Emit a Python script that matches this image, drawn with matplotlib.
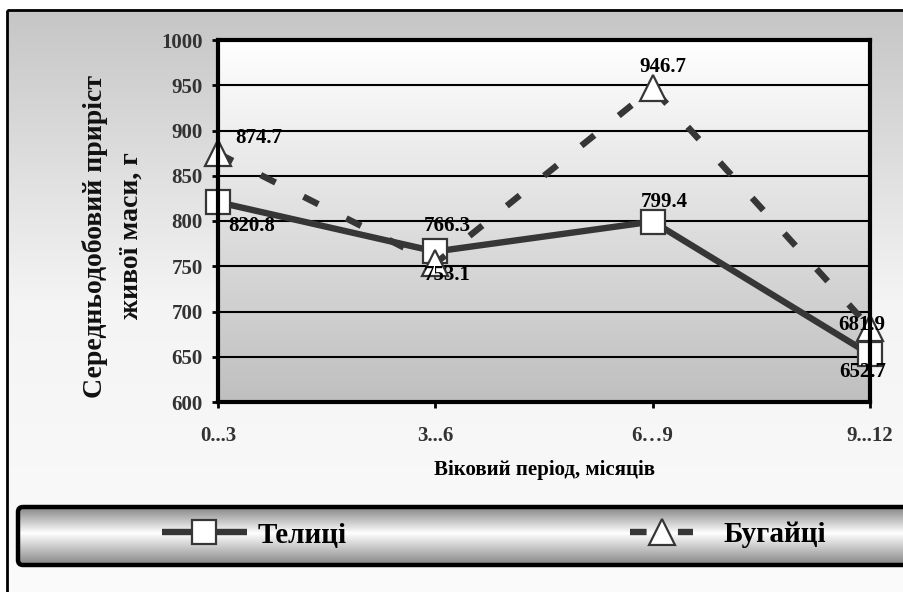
import numpy as np
import matplotlib
matplotlib.use('Agg')
import matplotlib.pyplot as plt
from matplotlib.patches import Rectangle, FancyBboxPatch
from matplotlib.colors import LinearSegmentedColormap

# ---- data ----
periods = ['0...3', '3...6', '6…9', '9...12']
heifers = [820.8, 766.3, 799.4, 652.7]
bulls = [874.7, 753.1, 946.7, 681.9]
series_names = ['Телиці', 'Бугайці']
y_ticks = [600, 650, 700, 750, 800, 850, 900, 950, 1000]
y_label = 'Середньодобовий приріст\nживої маси, г'
x_label = 'Віковий період, місяців'

plt.rcParams['font.family'] = ['Liberation Serif', 'DejaVu Serif']
plt.rcParams['font.weight'] = 'bold'

W, H = 904, 592
fig = plt.figure(figsize=(W / 100, H / 100), dpi=100)
fig.patch.set_facecolor('white')

# background axes in pixel coordinates
bg = fig.add_axes([0, 0, 1, 1], zorder=0)
bg.set_xlim(0, W)
bg.set_ylim(H, 0)
bg.axis('off')
grad = np.linspace(0, 1, 256).reshape(-1, 1)
cmap_bg = LinearSegmentedColormap.from_list('bg', ['#c6c6c6', '#f4f4f4', '#fbfbfb'])
bg.imshow(grad, extent=(7, W + 10, H, 10), cmap=cmap_bg, aspect='auto', origin='upper', zorder=0)
bg.add_patch(Rectangle((7, 10), W + 10, H + 10, fill=False, lw=2, ec='black', zorder=2))

# legend box with cylinder gradient
lbox = FancyBboxPatch((18, 507), W, 58, boxstyle='round,pad=0,rounding_size=5',
                      fc='none', ec='black', lw=3.2, zorder=3)
bg.add_patch(lbox)
cmap_leg = LinearSegmentedColormap.from_list('leg', [(0, '#848484'), (0.45, '#ffffff'), (1, '#848484')])
im = bg.imshow(grad, extent=(18, W + 20, 565, 507), cmap=cmap_leg, aspect='auto', origin='upper', zorder=1)
im.set_clip_path(lbox)
bg.set_xlim(0, W)
bg.set_ylim(H, 0)

# main axes
ax = fig.add_axes([218 / W, 1 - 402 / H, 652 / W, 362 / H], zorder=1)
ax.patch.set_visible(False)
cmap_plot = LinearSegmentedColormap.from_list('pl', ['#ffffff', '#bfbfbf'])
ax.imshow(grad, extent=(0, 1, 0, 1), transform=ax.transAxes, cmap=cmap_plot,
          aspect='auto', origin='upper', zorder=0)

x = np.arange(len(periods))
line_col = '#363636'
l1, = ax.plot(x, heifers, color=line_col, lw=4.6, marker='s', ms=17.5, mfc='white',
              mec=line_col, mew=1.6, clip_on=False, zorder=4, solid_capstyle='butt')
l2, = ax.plot(x, bulls, color=line_col, lw=4.6, marker='^', ms=18.5, mfc='white',
              mec=line_col, mew=1.6, clip_on=False, zorder=5, dashes=(2.6, 4.9))

ax.set_xlim(0, len(periods) - 1)
ax.set_ylim(y_ticks[0], y_ticks[-1])
ax.set_yticks(y_ticks)
ax.set_xticks(x)
ax.set_xticklabels(periods)
ax.yaxis.grid(True, color='black', lw=1.5)
ax.xaxis.grid(False)
ax.set_axisbelow(True)
for s in ax.spines.values():
    s.set_linewidth(3)
    s.set_zorder(6)
ax.tick_params(axis='y', direction='out', length=4, width=2, pad=7, labelsize=15, labelcolor='#333333')
ax.tick_params(axis='x', direction='out', length=4, width=2, pad=13, labelsize=15, labelcolor='#333333')

# data labels (offsets in points)
h_off = [(24, -17), (8.6, 18), (8.6, 14), (-5, -13)]
b_off = [(29, 11), (8.6, -8), (7, 15), (-6, 2)]
for xi, v, off in zip(x, heifers, h_off):
    ax.annotate(f'{v:.1f}', (xi, v), xytext=off, textcoords='offset points',
                ha='center', va='center', fontsize=15, color='black', zorder=7,
                annotation_clip=False)
for xi, v, off in zip(x, bulls, b_off):
    ax.annotate(f'{v:.1f}', (xi, v), xytext=off, textcoords='offset points',
                ha='center', va='center', fontsize=15, color='black', zorder=7,
                annotation_clip=False)

fig.text(113 / W, 1 - 236 / H, y_label, rotation=90, ha='center', va='center',
         fontsize=20, color='#111111', multialignment='center', linespacing=1.55)
fig.text(544 / W, 1 - 470 / H, x_label, ha='center', va='center', fontsize=15, color='black')

fs_leg = 21
em = fs_leg * 100 / 72
leg1 = fig.legend(handles=[l1], labels=[series_names[0]], loc='center left',
                  bbox_to_anchor=(162 / W, 1 - 535 / H), frameon=False, fontsize=fs_leg,
                  handlelength=85 / em, handletextpad=11 / em, borderpad=0, borderaxespad=0)
leg2 = fig.legend(handles=[l2], labels=[series_names[1]], loc='center left',
                  bbox_to_anchor=(630 / W, 1 - 535 / H), frameon=False, fontsize=fs_leg,
                  handlelength=63 / em, handletextpad=30 / em, borderpad=0, borderaxespad=0)
for lg in (leg1, leg2):
    lg.set_zorder(10)

fig.savefig('out.png', dpi=100)
